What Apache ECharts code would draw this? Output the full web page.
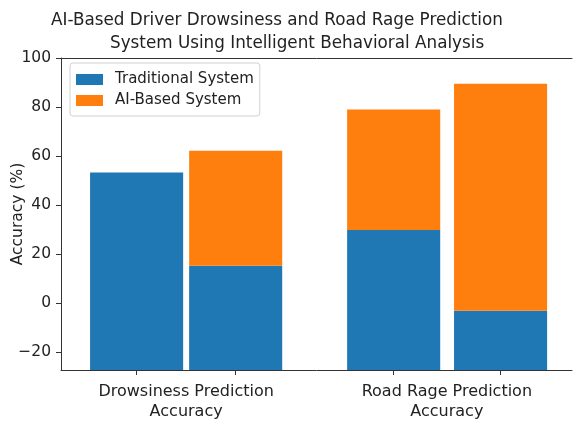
<!DOCTYPE html>
<html>
<head>
<meta charset="utf-8">
<script src="https://cdn.jsdelivr.net/npm/echarts@6/dist/echarts.min.js"></script>
<style>
  html, body { margin: 0; padding: 0; background: #fff; }
  #chart { width: 576px; height: 421px; }
</style>
</head>
<body>
<div id="chart"></div>
<script>
// 数据
const categories = ['Drowsiness Prediction\nAccuracy', 'Road Rage Prediction\nAccuracy'];
const categoryPositions = [0, 1];
const barPositions = [-0.19, 0.19, 0.796, 1.206];
const traditionalTops = [53.3, 15.3, 29.9, -3.0];
const aiTops = [null, 62.2, 79.0, 89.5];
const yTicks = [-20, 0, 20, 40, 60, 80, 100];
const yMin = -27.2;
const yMax = 100;

const FONT = 'DejaVu Sans';
const BAR_W = 0.357;

const chart = echarts.init(document.getElementById('chart'));

// 柱子: [x, 底, 顶]
const traditionalData = barPositions.map((x, i) => [x, yMin, traditionalTops[i]]);
const aiData = barPositions
	.map((x, i) => (aiTops[i] == null ? null : [x, traditionalTops[i], aiTops[i]]))
	.filter(d => d);

const renderBar = color => (params, api) => {
	const x = api.value(0);
	const p0 = api.coord([x - BAR_W / 2, api.value(2)]);
	const p1 = api.coord([x + BAR_W / 2, api.value(1)]);
	return {
		type: 'rect',
		shape: { x: p0[0], y: p0[1], width: p1[0] - p0[0], height: p1[1] - p0[1] },
		style: { fill: color },
	};
};

const option = {
	animation: false,
	title: [
		{
			text: 'AI-Based Driver Drowsiness and Road Rage Prediction',
			left: 46, top: 7,
			textStyle: { fontFamily: FONT, fontSize: 16.8, fontWeight: 'normal', color: '#222' },
		},
		{
			text: 'System Using Intelligent Behavioral Analysis',
			left: 105, top: 30,
			textStyle: { fontFamily: FONT, fontSize: 16.8, fontWeight: 'normal', color: '#222' },
		},
	],
	legend: {
		data: ['Traditional System', 'AI-Based System'],
		orient: 'vertical',
		left: 70, top: 63,
		padding: [9, 6, 8, 6],
		itemWidth: 27, itemHeight: 11, itemGap: 6,
		icon: 'rect',
		borderColor: '#d0d0d0', borderWidth: 1, borderRadius: 3,
		backgroundColor: 'rgba(255,255,255,0.8)',
		textStyle: { fontFamily: FONT, fontSize: 15, color: '#222', padding: [0, 0, 0, 7] },
	},
	grid: { left: 61, right: 4, top: 58, bottom: 51, containLabel: false, outerBoundsMode: 'none' },
	xAxis: [
		{
			type: 'value',
			min: -0.48, max: 1.48,
			splitLine: { show: false },
			axisLine: { show: true, onZero: false, lineStyle: { color: '#333' } },
			axisTick: { show: true, length: 5, customValues: barPositions, lineStyle: { color: '#333' } },
			axisLabel: {
				customValues: categoryPositions,
				formatter: v => categories[Math.round(v)],
				margin: 12,
				lineHeight: 20,
				fontFamily: FONT, fontSize: 16, color: '#222',
			},
		},
		{
			type: 'value',
			position: 'top',
			min: -0.48, max: 1.48,
			splitLine: { show: false },
			axisLine: { show: true, onZero: false, lineStyle: { color: '#333' } },
			axisTick: { show: false },
			axisLabel: { show: false },
		},
	],
	yAxis: {
		type: 'value',
		min: yMin, max: yMax,
		name: 'Accuracy (%)',
		nameLocation: 'middle',
		nameGap: 35,
		nameMoveOverlap: false,
		nameTextStyle: { fontFamily: FONT, fontSize: 15.5, color: '#222' },
		splitLine: { show: false },
		axisLine: { show: true, onZero: false, lineStyle: { color: '#333' } },
		axisTick: { show: true, length: 5, customValues: yTicks, lineStyle: { color: '#333' } },
		axisLabel: {
			customValues: yTicks,
			formatter: v => (v < 0 ? '\u2212' + Math.abs(v) : String(v)),
			margin: 10,
			fontFamily: FONT, fontSize: 15.5, color: '#222',
		},
	},
	series: [
		{
			name: 'Traditional System',
			type: 'custom',
			itemStyle: { color: '#1f77b4' },
			data: traditionalData,
			renderItem: renderBar('#1f77b4'),
		},
		{
			name: 'AI-Based System',
			type: 'custom',
			itemStyle: { color: '#ff7f0e' },
			data: aiData,
			renderItem: renderBar('#ff7f0e'),
		},
	],
};

chart.setOption(option);
</script>
</body>
</html>
